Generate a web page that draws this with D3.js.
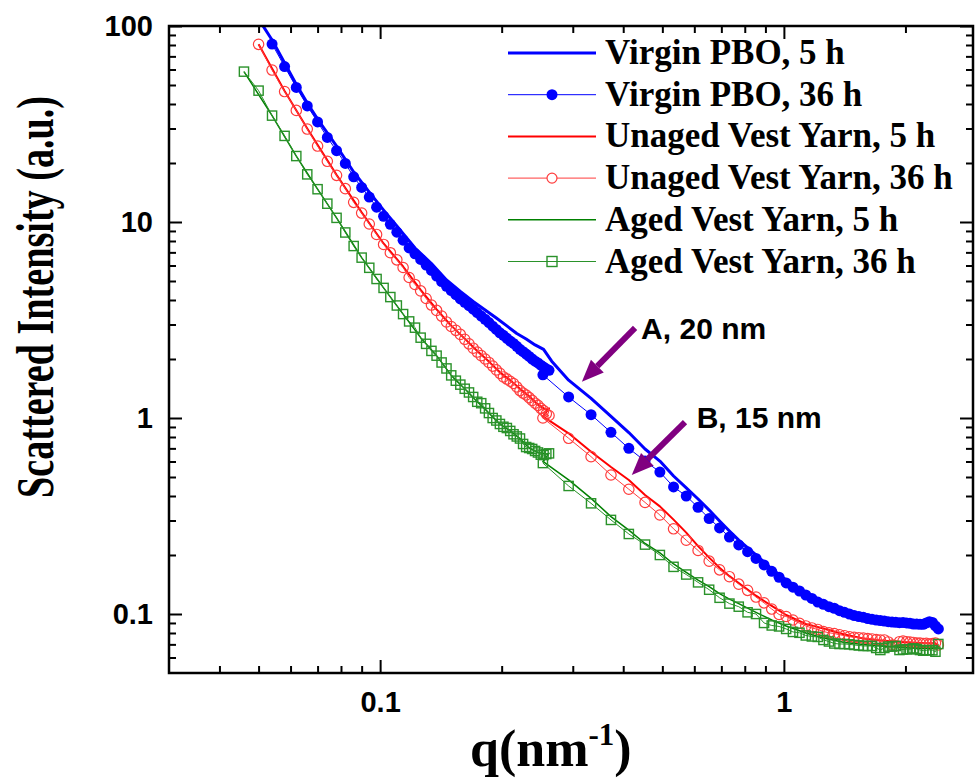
<!DOCTYPE html>
<html>
<head>
<meta charset="utf-8">
<script src="https://cdn.jsdelivr.net/npm/d3@7/dist/d3.min.js"></script>
<style>
body { margin: 0; background: #ffffff; }
</style>
</head>
<body>
<script>
//Data (q in nm^-1, intensity in a.u.)
var qLow = [0.046, 0.050, 0.054, 0.058, 0.062, 0.066, 0.070, 0.074, 0.078, 0.082, 0.086, 0.090, 0.094, 0.098, 0.102, 0.106, 0.110, 0.114, 0.118, 0.122, 0.126, 0.130, 0.134, 0.138, 0.142, 0.146, 0.150, 0.154, 0.158, 0.162, 0.166, 0.170, 0.174, 0.178, 0.182, 0.186, 0.190, 0.194, 0.198, 0.202, 0.206, 0.210, 0.214, 0.218, 0.222, 0.226, 0.230, 0.234, 0.238, 0.242, 0.246, 0.250, 0.254, 0.258, 0.262];
var qHigh = [0.253, 0.293, 0.333, 0.373, 0.413, 0.453, 0.493, 0.533, 0.573, 0.613, 0.653, 0.693, 0.733, 0.773, 0.813, 0.853, 0.893, 0.933, 0.973, 1.013, 1.053, 1.093, 1.133, 1.173, 1.213, 1.253, 1.293, 1.333, 1.373, 1.413, 1.453, 1.493, 1.533, 1.573, 1.613, 1.653, 1.693, 1.733, 1.773, 1.813, 1.853, 1.893, 1.933, 1.973, 2.013, 2.053, 2.093, 2.133, 2.173, 2.213, 2.253, 2.293, 2.333, 2.373, 2.413];

var virgin36Low = [null, null, 80.9, 62.1, 48.6, 39.1, 32.4, 27.0, 23.1, 19.9, 17.0, 15.0, 13.4, 11.9, 10.7, 9.73, 8.87, 8.08, 7.37, 6.88, 6.44, 6.03, 5.66, 5.30, 4.97, 4.70, 4.47, 4.26, 4.05, 3.89, 3.74, 3.59, 3.45, 3.31, 3.19, 3.07, 2.94, 2.83, 2.72, 2.64, 2.55, 2.47, 2.40, 2.32, 2.24, 2.18, 2.12, 2.06, 2.00, 1.95, 1.91, 1.86, 1.82, 1.78, 1.75];
var virgin36High = [1.66, 1.28, 1.04, 0.845, 0.700, 0.603, 0.530, 0.445, 0.400, 0.350, 0.307, 0.275, 0.247, 0.225, 0.208, 0.192, 0.178, 0.165, 0.154, 0.144, 0.137, 0.131, 0.125, 0.120, 0.115, 0.112, 0.109, 0.107, 0.104, 0.102, 0.100, 0.0982, 0.0971, 0.0962, 0.0948, 0.0940, 0.0932, 0.0926, 0.0921, 0.0914, 0.0910, 0.0907, 0.0903, 0.0905, 0.0900, 0.0897, 0.0889, 0.0889, 0.0886, 0.0886, 0.0900, 0.0914, 0.0905, 0.0869, 0.0839];

var unaged36Low = [null, 80.6, 59.6, 46.3, 37.1, 29.8, 24.4, 20.4, 17.3, 14.8, 12.6, 11.1, 9.77, 8.64, 7.68, 6.97, 6.41, 5.86, 5.21, 4.80, 4.45, 4.07, 3.77, 3.54, 3.31, 3.09, 2.93, 2.80, 2.67, 2.52, 2.39, 2.27, 2.17, 2.08, 2.00, 1.92, 1.84, 1.76, 1.69, 1.62, 1.58, 1.54, 1.50, 1.44, 1.38, 1.34, 1.31, 1.27, 1.23, 1.19, 1.16, 1.12, 1.09, 1.05, 1.03];
var unaged36High = [1.00, 0.788, 0.635, 0.512, 0.433, 0.371, 0.320, 0.272, 0.238, 0.211, 0.186, 0.168, 0.155, 0.142, 0.132, 0.122, 0.114, 0.106, 0.0994, 0.0971, 0.0932, 0.0897, 0.0869, 0.0849, 0.0834, 0.0814, 0.0802, 0.0795, 0.0784, 0.0775, 0.0766, 0.0760, 0.0757, 0.0753, 0.0750, 0.0746, 0.0741, 0.0737, 0.0737, 0.0720, 0.0695, 0.0687, 0.0722, 0.0728, 0.0722, 0.0720, 0.0716, 0.0711, 0.0711, 0.0707, 0.0709, 0.0703, 0.0707, 0.0711, 0.0695];

var aged36Low = [58.5, 46.8, 34.9, 27.5, 21.7, 17.5, 14.7, 12.4, 10.5, 8.84, 7.54, 6.58, 5.84, 5.12, 4.61, 4.14, 3.75, 3.39, 3.11, 2.89, 2.57, 2.39, 2.20, 2.08, 1.92, 1.79, 1.65, 1.55, 1.48, 1.41, 1.35, 1.28, 1.21, 1.19, 1.12, 1.06, 1.00, 0.971, 0.932, 0.902, 0.889, 0.859, 0.826, 0.805, 0.786, 0.737, 0.711, 0.703, 0.695, 0.679, 0.667, 0.650, 0.647, 0.655, 0.660];
var aged36High = [0.589, 0.450, 0.367, 0.302, 0.256, 0.226, 0.200, 0.174, 0.159, 0.145, 0.133, 0.121, 0.113, 0.109, 0.102, 0.100, 0.0900, 0.0874, 0.0864, 0.0839, 0.0810, 0.0802, 0.0777, 0.0768, 0.0764, 0.0737, 0.0724, 0.0707, 0.0703, 0.0703, 0.0700, 0.0695, 0.0691, 0.0687, 0.0687, 0.0687, 0.0671, 0.0655, 0.0671, 0.0682, 0.0683, 0.0687, 0.0655, 0.0659, 0.0661, 0.0661, 0.0668, 0.0663, 0.0655, 0.0650, 0.0652, 0.0655, 0.0653, 0.0642, 0.0703];

var qVirgin5 = [0.050, 0.054, 0.058, 0.062, 0.066, 0.070, 0.078, 0.086, 0.094, 0.102, 0.110, 0.122, 0.134, 0.146, 0.158, 0.170, 0.182, 0.194, 0.206, 0.218, 0.230, 0.242, 0.254, 0.266, 0.293, 0.333, 0.373, 0.413, 0.453, 0.493, 0.533, 0.573, 0.613, 0.653, 0.693, 0.733, 0.773, 0.853, 0.933, 1.013, 1.133, 1.253, 1.413, 1.573, 1.733, 1.893, 2.053, 2.213, 2.373, 2.413];
var virgin5 = [108.6, 84.8, 64.7, 50.3, 40.5, 33.5, 24.4, 18.0, 14.2, 11.5, 9.54, 7.37, 6.14, 5.06, 4.42, 3.93, 3.56, 3.24, 2.95, 2.70, 2.53, 2.36, 2.24, 1.95, 1.56, 1.26, 1.02, 0.843, 0.695, 0.603, 0.506, 0.440, 0.386, 0.339, 0.298, 0.265, 0.238, 0.200, 0.170, 0.149, 0.129, 0.115, 0.104, 0.0977, 0.0943, 0.0921, 0.0910, 0.0900, 0.0889, 0.0859];

var qUnaged5 = [0.050, 0.058, 0.066, 0.078, 0.090, 0.102, 0.114, 0.126, 0.138, 0.150, 0.162, 0.174, 0.186, 0.198, 0.210, 0.222, 0.234, 0.246, 0.258, 0.262, 0.253, 0.293, 0.333, 0.373, 0.413, 0.453, 0.493, 0.533, 0.573, 0.613, 0.653, 0.693, 0.733, 0.773, 0.853, 0.933, 1.013, 1.133, 1.253, 1.413, 1.573, 1.733, 1.893, 2.053, 2.213, 2.373, 2.413];
var unaged5 = [80.6, 46.6, 30.0, 17.4, 11.2, 7.77, 5.93, 4.50, 3.58, 2.96, 2.54, 2.20, 1.94, 1.71, 1.56, 1.41, 1.29, 1.17, 1.10, 1.12, 1.02, 0.835, 0.673, 0.562, 0.483, 0.405, 0.354, 0.303, 0.260, 0.222, 0.194, 0.172, 0.156, 0.144, 0.124, 0.110, 0.0988, 0.0889, 0.0844, 0.0786, 0.0750, 0.0733, 0.0724, 0.0716, 0.0711, 0.0709, 0.0681];

var qAged5 = [0.046, 0.054, 0.062, 0.070, 0.078, 0.090, 0.102, 0.114, 0.126, 0.138, 0.150, 0.162, 0.174, 0.186, 0.198, 0.210, 0.222, 0.234, 0.246, 0.258, 0.262, 0.253, 0.293, 0.333, 0.373, 0.413, 0.453, 0.493, 0.533, 0.573, 0.613, 0.653, 0.693, 0.733, 0.773, 0.853, 0.933, 1.013, 1.133, 1.253, 1.413, 1.573, 1.733, 1.893, 2.053, 2.213, 2.373, 2.413];
var aged5 = [58.5, 34.9, 21.7, 14.7, 10.5, 6.58, 4.61, 3.39, 2.57, 2.08, 1.65, 1.41, 1.21, 1.06, 0.932, 0.859, 0.786, 0.703, 0.667, 0.655, 0.66, 0.60, 0.483, 0.389, 0.314, 0.268, 0.229, 0.205, 0.180, 0.163, 0.149, 0.138, 0.127, 0.119, 0.113, 0.102, 0.0932, 0.0869, 0.0800, 0.0754, 0.0716, 0.0699, 0.0687, 0.0679, 0.0671, 0.0667, 0.0667, 0.0687];

var xMajor = [0.1, 1];
var xMinor = [0.04, 0.05, 0.06, 0.07, 0.08, 0.09, 0.2, 0.3, 0.4, 0.5, 0.6, 0.7, 0.8, 0.9, 2];
var yMajor = [0.1, 1, 10, 100];
var yMinor = [0.06, 0.07, 0.08, 0.09, 0.2, 0.3, 0.4, 0.5, 0.6, 0.7, 0.8, 0.9, 2, 3, 4, 5, 6, 7, 8, 9, 20, 30, 40, 50, 60, 70, 80, 90];

//Settings
var width = 977;
var height = 782;
var plotLeft = 169;
var plotRight = 973;
var plotTop = 26;
var plotBottom = 673;
var sansFont = "'Liberation Sans', Arial, sans-serif";
var serifFont = "'Liberation Serif', 'Times New Roman', serif";

var svg = d3.select("body").append("svg").attr("width", width).attr("height", height);

var x = d3.scaleLog().domain([0.03, 2.94]).range([plotLeft, plotRight]);
var y = d3.scaleLog().domain([0.05, 100]).range([plotBottom, plotTop]);

svg.append("clipPath").attr("id", "plotClip").append("rect")
    .attr("x", plotLeft).attr("y", plotTop).attr("width", plotRight - plotLeft).attr("height", plotBottom - plotTop);

function zip(qs, vs)
{
    return qs.map(function(q, i) { return {q: q, v: vs[i]}; });
}

var series = [
    {name: "Virgin PBO, 5 h", data: zip(qVirgin5, virgin5), color: "#0000ff", lineWidth: 3, marker: null},
    {name: "Virgin PBO, 36 h", data: zip(qLow.concat(qHigh), virgin36Low.concat(virgin36High)), color: "#0000ff", lineWidth: 1, marker: "dot"},
    {name: "Unaged Vest Yarn, 5 h", data: zip(qUnaged5, unaged5), color: "#ff0000", lineWidth: 2, marker: null},
    {name: "Unaged Vest Yarn, 36 h", data: zip(qLow.concat(qHigh), unaged36Low.concat(unaged36High)), color: "#ff3c3c", lineWidth: 1, marker: "circle"},
    {name: "Aged Vest Yarn, 5 h", data: zip(qAged5, aged5), color: "#008000", lineWidth: 1.5, marker: null},
    {name: "Aged Vest Yarn, 36 h", data: zip(qLow.concat(qHigh), aged36Low.concat(aged36High)), color: "#2a922a", lineWidth: 1, marker: "square"}
];

var line = d3.line()
    .defined(function(d) { return d.v != null; })
    .x(function(d) { return x(d.q); })
    .y(function(d) { return y(d.v); });

function drawMarker(g, kind, color, cx, cy, r)
{
    if(kind == "dot")
    {
        g.append("circle").attr("cx", cx).attr("cy", cy).attr("r", r).attr("fill", color);
    }
    else if(kind == "circle")
    {
        g.append("circle").attr("cx", cx).attr("cy", cy).attr("r", r).attr("fill", "none").attr("stroke", color).attr("stroke-width", 1.2);
    }
    else if(kind == "square")
    {
        g.append("rect").attr("x", cx - r).attr("y", cy - r).attr("width", 2 * r).attr("height", 2 * r)
            .attr("fill", "none").attr("stroke", color).attr("stroke-width", 1.4);
    }
}

//Series
var plot = svg.append("g").attr("clip-path", "url(#plotClip)");
series.forEach(function(s)
{
    var g = plot.append("g");
    g.append("path").datum(s.data).attr("d", line)
        .attr("fill", "none").attr("stroke", s.color).attr("stroke-width", s.lineWidth).attr("stroke-linejoin", "round");
    if(s.marker)
    {
        var r = s.marker == "square" ? 4.6 : (s.marker == "dot" ? 5.5 : 5.2);
        s.data.filter(function(d) { return d.v != null; }).forEach(function(d)
        {
            drawMarker(g, s.marker, s.color, x(d.q), y(d.v), r);
        });
    }
});

//Axes
function styleAxis(g)
{
    g.select(".domain").remove();
    g.selectAll(".tick line").attr("stroke", "#000").attr("stroke-width", 2);
    g.selectAll(".tick text").attr("fill", "#000").attr("font-family", sansFont).attr("font-weight", "bold").attr("font-size", 29);
}

var fmt = d3.format("");
svg.append("g").attr("transform", "translate(0," + plotBottom + ")")
    .call(d3.axisBottom(x).tickValues(xMajor).tickSize(-13).tickPadding(18).tickFormat(fmt)).call(styleAxis);
svg.append("g").attr("transform", "translate(0," + plotBottom + ")")
    .call(d3.axisBottom(x).tickValues(xMinor).tickSize(-7).tickFormat("")).call(styleAxis);
svg.append("g").attr("transform", "translate(0," + plotTop + ")")
    .call(d3.axisTop(x).tickValues(xMajor).tickSize(-13).tickFormat("")).call(styleAxis);
svg.append("g").attr("transform", "translate(0," + plotTop + ")")
    .call(d3.axisTop(x).tickValues(xMinor).tickSize(-7).tickFormat("")).call(styleAxis);

svg.append("g").attr("transform", "translate(" + plotLeft + ",0)")
    .call(d3.axisLeft(y).tickValues(yMajor).tickSize(-13).tickPadding(16).tickFormat(fmt)).call(styleAxis);
svg.append("g").attr("transform", "translate(" + plotLeft + ",0)")
    .call(d3.axisLeft(y).tickValues(yMinor).tickSize(-7).tickFormat("")).call(styleAxis);
svg.append("g").attr("transform", "translate(" + plotRight + ",0)")
    .call(d3.axisRight(y).tickValues(yMajor).tickSize(-13).tickFormat("")).call(styleAxis);
svg.append("g").attr("transform", "translate(" + plotRight + ",0)")
    .call(d3.axisRight(y).tickValues(yMinor).tickSize(-7).tickFormat("")).call(styleAxis);

//Frame
svg.append("rect").attr("x", plotLeft).attr("y", plotTop).attr("width", plotRight - plotLeft).attr("height", plotBottom - plotTop)
    .attr("fill", "none").attr("stroke", "#000").attr("stroke-width", 2.5);

//Axis titles
svg.append("text").attr("transform", "translate(53,297) rotate(-90)")
    .attr("text-anchor", "middle").attr("font-family", serifFont).attr("font-weight", "bold").attr("font-size", 52)
    .attr("textLength", 402).attr("lengthAdjust", "spacingAndGlyphs")
    .text("Scattered Intensity (a.u.)");

var xt = svg.append("text").attr("x", 470).attr("y", 766)
    .attr("font-family", serifFont).attr("font-weight", "bold").attr("font-size", 52);
xt.append("tspan").text("q(nm");
xt.append("tspan").attr("font-size", 31).attr("dy", -21).text("-1");
xt.append("tspan").attr("dy", 21).text(")");

//Legend
var legend = svg.append("g").attr("transform", "translate(508,53)");
series.forEach(function(s, i)
{
    var lg = legend.append("g").attr("transform", "translate(0," + (i * 41.7) + ")");
    lg.append("line").attr("x1", 0).attr("x2", 88).attr("y1", 0).attr("y2", 0)
        .attr("stroke", s.color).attr("stroke-width", s.lineWidth);
    if(s.marker)
    {
        if(s.marker == "circle")
        {
            lg.append("circle").attr("cx", 44).attr("cy", 0).attr("r", 5).attr("fill", "#fff").attr("stroke", s.color).attr("stroke-width", 1.2);
        }
        else
        {
            drawMarker(lg, s.marker, s.color, 44, 0, s.marker == "dot" ? 5.5 : 5);
        }
    }
    lg.append("text").attr("x", 97).attr("y", 11)
        .attr("font-family", serifFont).attr("font-weight", "bold").attr("font-size", 35)
        .text(s.name);
});

//Annotations
var notes = [
    {label: "A, 20 nm", tq: 0.443, tv: 2.52, fromQ: 0.428, fromV: 2.88, toQ: 0.316, toV: 1.53},
    {label: "B, 15 nm", tq: 0.608, tv: 0.886, fromQ: 0.569, fromV: 0.954, toQ: 0.420, toV: 0.512}
];
notes.forEach(function(n)
{
    var x1 = x(n.fromQ), y1 = y(n.fromV), x2 = x(n.toQ), y2 = y(n.toV);
    var ang = Math.atan2(y2 - y1, x2 - x1);
    var headLen = 22, headHalf = 9;
    var bx = x2 - headLen * Math.cos(ang), by = y2 - headLen * Math.sin(ang);
    svg.append("line").attr("x1", x1).attr("y1", y1).attr("x2", bx).attr("y2", by)
        .attr("stroke", "#800080").attr("stroke-width", 6);
    var pts = [
        [x2, y2],
        [bx + headHalf * Math.sin(ang), by - headHalf * Math.cos(ang)],
        [bx - headHalf * Math.sin(ang), by + headHalf * Math.cos(ang)]
    ];
    svg.append("polygon").attr("points", pts.map(function(p) { return p.join(","); }).join(" ")).attr("fill", "#800080");
    svg.append("text").attr("x", x(n.tq)).attr("y", y(n.tv))
        .attr("font-family", sansFont).attr("font-weight", "bold").attr("font-size", 30)
        .text(n.label);
});
</script>
</body>
</html>
